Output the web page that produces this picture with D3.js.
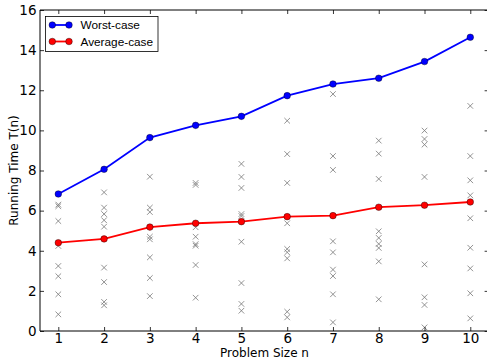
<!DOCTYPE html>
<html>
<head>
<meta charset="utf-8">
<script src="https://cdn.jsdelivr.net/npm/d3@7"></script>
<style>
  html, body { margin: 0; padding: 0; background: #fff; }
  svg { display: block; }
  text { font-family: "DejaVu Sans", sans-serif; fill: #000; }
  text.leg { font-family: "Liberation Sans", Arial, sans-serif; }
</style>
</head>
<body>
<svg id="chart" width="487" height="359"></svg>
<script>
const sizes = [1, 2, 3, 4, 5, 6, 7, 8, 9, 10];
const worstCase = [6.83, 8.06, 9.64, 10.25, 10.70, 11.73, 12.31, 12.60, 13.43, 14.64];
const averageCase = [4.40, 4.59, 5.18, 5.37, 5.45, 5.70, 5.75, 6.17, 6.27, 6.43];
const samples = [
  [6.22, 6.30, 5.48, 4.24, 3.24, 2.73, 1.83, 0.83],
  [6.91, 6.15, 5.83, 5.52, 5.20, 3.16, 2.44, 1.45, 1.28],
  [7.69, 6.15, 5.93, 4.70, 4.57, 3.67, 2.64, 1.74],
  [7.28, 7.38, 5.17, 4.70, 4.25, 4.33, 3.29, 1.66],
  [8.33, 7.68, 7.13, 5.83, 5.73, 4.45, 2.39, 1.35, 1.01],
  [10.48, 8.82, 7.38, 5.37, 4.09, 3.92, 3.62, 0.96, 0.68],
  [11.81, 8.72, 8.03, 4.47, 3.92, 3.06, 2.74, 1.83, 0.43],
  [9.49, 8.84, 7.58, 4.97, 4.64, 4.34, 4.14, 3.47, 1.58],
  [9.99, 9.57, 9.29, 7.68, 3.32, 1.68, 1.30, 0.18],
  [11.22, 8.72, 7.51, 6.76, 5.62, 4.15, 3.12, 1.88, 0.63]
];
const xTicks = [1, 2, 3, 4, 5, 6, 7, 8, 9, 10];
const yTicks = [0, 2, 4, 6, 8, 10, 12, 14, 16];
const seriesNames = ["Worst-case", "Average-case"];
const seriesColors = ["#0000ff", "#ff0000"];

const svg = d3.select("#chart");
const L = 40, R = 488.6, T = 10, B = 331;
const x = d3.scaleLinear().domain([0.6, 10.4]).range([L, R]);
const y = d3.scaleLinear().domain([0, 16]).range([B, T]);

// scatter samples
const pts = [];
samples.forEach((arr, i) => arr.forEach(v => pts.push({n: sizes[i], v})));
const s = 2.8;
svg.append("g").selectAll("path").data(pts).join("path")
  .attr("d", d => {
    const cx = x(d.n), cy = y(d.v);
    return `M${cx - s},${cy - s}L${cx + s},${cy + s}M${cx - s},${cy + s}L${cx + s},${cy - s}`;
  })
  .attr("stroke", "#777").attr("stroke-width", 0.8).attr("fill", "none");

// lines
const series = [worstCase, averageCase];
const line = d3.line().x((d, i) => x(sizes[i])).y(d => y(d));
series.forEach((vals, k) => {
  svg.append("path").datum(vals).attr("d", line)
    .attr("fill", "none").attr("stroke", seriesColors[k]).attr("stroke-width", 1.8);
  svg.append("g").selectAll("circle").data(vals).join("circle")
    .attr("cx", (d, i) => x(sizes[i])).attr("cy", d => y(d)).attr("r", 3.3)
    .attr("fill", seriesColors[k]).attr("stroke", "#000").attr("stroke-width", 0.4);
});

// axes (inward ticks on all sides, classic style)
const tickFont = 13.5;
const axB = d3.axisBottom(x).tickValues(xTicks).tickSize(-4).tickPadding(2.5).tickFormat(d3.format("d"));
const axT = d3.axisTop(x).tickValues(xTicks).tickSize(-4).tickFormat("");
const axL = d3.axisLeft(y).tickValues(yTicks).tickSize(-4).tickPadding(3.5).tickFormat(d3.format("d"));
const axR = d3.axisRight(y).tickValues(yTicks).tickSize(-4).tickFormat("");

function style(g) {
  g.selectAll("path.domain").attr("stroke", "#000").attr("stroke-width", 1);
  g.selectAll(".tick line").attr("stroke", "#000").attr("stroke-width", 0.8);
  g.selectAll("text").attr("font-size", tickFont).attr("fill", "#000");
}
svg.append("g").attr("transform", `translate(0,${B})`).call(axB).call(style).call(g => g.select(".domain").attr("d", `M${L},0H${R}`));
svg.append("g").attr("transform", `translate(0,${T})`).call(axT).call(style).call(g => g.select(".domain").attr("d", `M${L},0H${R}`));
svg.append("g").attr("transform", `translate(${L},0)`).call(axL).call(style).call(g => g.select(".domain").attr("d", `M0,${T}V${B}`));
svg.append("g").attr("transform", `translate(${R},0)`).call(axR).call(style).call(g => g.select(".domain").attr("d", `M0,${T}V${B}`));

// axis labels
svg.append("text").attr("x", 264.5).attr("y", 357).attr("text-anchor", "middle")
  .attr("font-size", 12).text("Problem Size n");
svg.append("text").attr("transform", `translate(17.5,${(T + B) / 2}) rotate(-90)`)
  .attr("text-anchor", "middle").attr("font-size", 12).text("Running Time T(n)");

// legend
const lg = svg.append("g");
lg.append("rect").attr("x", 45.5).attr("y", 16.5).attr("width", 112.5).attr("height", 35)
  .attr("fill", "#fff").attr("stroke", "#000").attr("stroke-width", 0.8);
seriesNames.forEach((name, k) => {
  const yy = 25 + k * 16.5;
  lg.append("line").attr("x1", 52.3).attr("x2", 69).attr("y1", yy).attr("y2", yy)
    .attr("stroke", seriesColors[k]).attr("stroke-width", 1.8);
  [52.3, 69].forEach(cx => lg.append("circle").attr("cx", cx).attr("cy", yy).attr("r", 3.3)
    .attr("fill", seriesColors[k]).attr("stroke", "#000").attr("stroke-width", 0.4));
  lg.append("text").attr("class", "leg").attr("x", 80.5).attr("y", yy + 4.2).attr("font-size", 11.8).text(name);
});
</script>
</body>
</html>
